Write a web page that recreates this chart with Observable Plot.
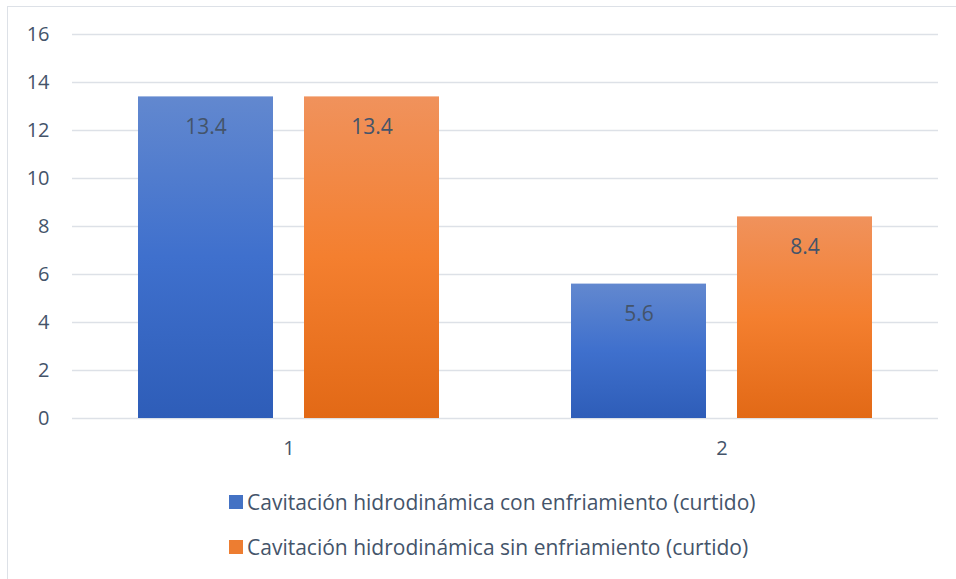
<!DOCTYPE html>
<html>
<head>
<meta charset="utf-8">
<script src="https://cdn.jsdelivr.net/npm/d3@7"></script>
<script src="https://cdn.jsdelivr.net/npm/@observablehq/plot@0.6"></script>
<style>
  html, body { margin: 0; padding: 0; background: #fff; width: 956px; height: 579px; overflow: hidden; }
  #frame { position: absolute; left: 7px; top: 6px; width: 980px; height: 600px; border: 1px solid #dde1e7; box-sizing: border-box; }
  #chart { position: absolute; left: 0; top: 0; }
  .legend { position: absolute; left: 229px; font-family: "Open Sans", sans-serif; font-size: 21px; color: #44546a; white-space: nowrap; }
  .legend .row { position: absolute; left: 0; display: flex; align-items: center; }
  .legend .sw { width: 14px; height: 14px; margin-right: 4px; }
</style>
</head>
<body>
<div id="frame"></div>
<div id="chart"></div>
<div class="legend" id="legend"></div>
<script>
// Categories and series
const categories = ["1", "2"];
const seriesNames = [
  "Cavitación hidrodinámica con enfriamiento (curtido)",
  "Cavitación hidrodinámica sin enfriamiento (curtido)"
];
const conEnfriamiento = [13.4, 5.6];
const sinEnfriamiento = [13.4, 8.4];
const yTicks = [0, 2, 4, 6, 8, 10, 12, 14, 16];

const seriesGradients = ["url(#grad-blue)", "url(#grad-orange)"];
const swatchColors = ["#4472c4", "#ed7d31"];
const textColor = "#44546a";

const rows = categories.flatMap((cat, i) => [
  {cat, key: 0, value: conEnfriamiento[i]},
  {cat, key: 1, value: sinEnfriamiento[i]}
]);

const chart = Plot.plot({
  width: 956,
  height: 460,
  marginTop: 34,
  marginBottom: 42,
  marginLeft: 72,
  marginRight: 18,
  style: {fontFamily: "'Open Sans', sans-serif", fontSize: "20px", color: textColor, background: "transparent"},
  fx: {domain: categories, padding: 0, tickSize: 0, tickPadding: 22, label: null, axis: "bottom"},
  x: {domain: [0, 1], axis: null, paddingInner: 0.187, paddingOuter: 0.397},
  y: {domain: [0, 16], ticks: yTicks, tickSize: 0, tickPadding: 23, label: null, grid: true},
  marks: [
    Plot.ruleY(yTicks, {stroke: "#dde1e7", strokeWidth: 1.5}),
    Plot.barY(rows.filter(d => d.key === 0), {fx: "cat", x: "key", y: "value", fill: seriesGradients[0]}),
    Plot.barY(rows.filter(d => d.key === 1), {fx: "cat", x: "key", y: "value", fill: seriesGradients[1]}),
    Plot.text(rows, {fx: "cat", x: "key", y: "value", text: d => d.value.toFixed(1), dy: 30, fill: textColor, fontSize: 21})
  ]
});

// Vertical gradients for the bar fills
const defs = d3.select(chart).insert("defs", ":first-child");
function addGradient(id, stops) {
  const lg = defs.append("linearGradient").attr("id", id)
    .attr("x1", 0).attr("y1", 0).attr("x2", 0).attr("y2", 1);
  stops.forEach(([o, c]) => lg.append("stop").attr("offset", o).attr("stop-color", c));
}
addGradient("grad-blue", [[0, "#6288cf"], [0.5, "#3f70cd"], [1, "#2e5db8"]]);
addGradient("grad-orange", [[0, "#f0925c"], [0.5, "#f47f2f"], [1, "#e26916"]]);

document.getElementById("chart").appendChild(chart);

// Legend below the plot
const legend = d3.select("#legend");
seriesNames.forEach((name, i) => {
  const row = legend.append("div").attr("class", "row").style("top", (i === 0 ? 488 : 533) + "px");
  row.append("div").attr("class", "sw").style("background", swatchColors[i]);
  row.append("span").text(name);
});
</script>
</body>
</html>
